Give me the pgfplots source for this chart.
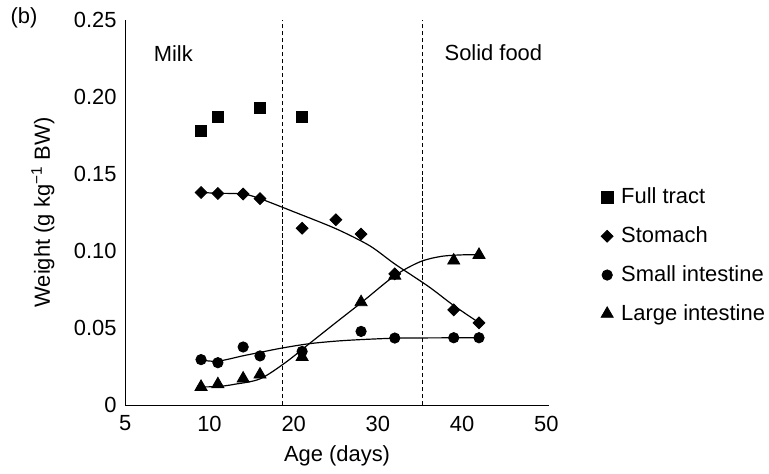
\documentclass[border=0pt]{standalone}
\usepackage{fontspec}
\setmainfont{Liberation Sans}
\usepackage{pgfplots}
\pgfplotsset{compat=1.18}
\begin{document}
\fontsize{11}{13}\selectfont
\begin{tikzpicture}
\begin{axis}[
  scale only axis, width=212.6pt, height=193.25pt,
  xmin=0, xmax=50.3, ymin=0, ymax=0.25,
  axis x line*=bottom, axis y line*=left,
  axis line style={-, line width=0.5pt},
  xtick={0,10,20,30,40,50}, xticklabels={5,10,20,30,40,50},
  ytick={0,0.05,0.10,0.15,0.20,0.25}, yticklabels={0,0.05,0.10,0.15,0.20,0.25},
  major tick length=0pt,
  /pgf/number format/assume math mode=true,
  tick label style={font=\fontsize{11}{13}\selectfont},
  xticklabel style={yshift=-1.5pt},
  yticklabel style={xshift=-0.5pt},
  xlabel={Age (days)}, ylabel={Weight (g kg\textsuperscript{−1} BW)},
  xlabel style={at={(axis description cs:0.5,-0.133)}, anchor=center},
  ylabel style={at={(axis description cs:-0.1945,0.5)}, anchor=center},
  label style={font=\fontsize{11}{13}\selectfont},
  clip=false,
  legend style={draw=none, fill=none, inner xsep=0pt, at={(1.1223,0.388)}, anchor=west,
    font=\fontsize{11}{13}\selectfont, row sep=5.85pt,
    legend cell align=left},
  legend image code/.code={\path (0cm,0cm) (0.27cm,0cm); \draw[mark repeat=2,mark phase=2,#1] plot coordinates {(0cm,0cm) (0.1cm,0cm) (0.2cm,0cm)};},
]
% bounding box of the whole figure
\path (axis description cs:-0.2956,-0.1514) rectangle (axis description cs:1.5126,1.0518);
% dashed separators
\addplot[forget plot, line width=0.4pt, dash pattern=on 2.2pt off 1.3pt] coordinates {(18.6,0) (18.6,0.25)};
\addplot[forget plot, line width=0.4pt, dash pattern=on 2.2pt off 1.3pt] coordinates {(35.3,0) (35.3,0.25)};
% fitted curves
\addplot[forget plot, smooth, tension=0.5, line width=0.6pt] coordinates {
 (9,0.138) (11,0.1375) (14,0.137) (16,0.134) (20,0.1255) (25,0.1145) (29,0.1035) (32,0.0916) (36,0.077) (39,0.0646) (42,0.0535)};
\addplot[forget plot, smooth, tension=0.5, line width=0.6pt] coordinates {
 (9,0.0292) (11,0.0285) (14,0.032) (16,0.0342) (18.6,0.037) (21.8,0.0398) (25,0.0415) (28,0.0425) (32,0.0434) (36,0.0436) (42,0.0437)};
\addplot[forget plot, smooth, tension=0.5, line width=0.6pt] coordinates {
 (9,0.0118) (11,0.012) (13,0.0135) (16,0.017) (19,0.0275) (22,0.0405) (25,0.0535) (28.1,0.0668) (32,0.084) (35,0.093) (37.5,0.0965) (40,0.0975) (42,0.0975)};
% data
\addplot[only marks, mark=square*, mark size=2.9pt, black] coordinates {
 (9,0.178) (11,0.187) (16,0.193) (21,0.187)};
\addlegendentry{Full tract}
\addplot[only marks, mark=square*, mark size=2.1pt, mark options={rotate=45}, black] coordinates {
 (9,0.138) (11,0.1374) (14,0.137) (16,0.134) (21,0.1148) (25,0.1203) (28,0.111) (32,0.0852) (39,0.0618) (42,0.0534)};
\addlegendentry{Stomach}
\addplot[only marks, mark=*, mark size=2.6pt, black] coordinates {
 (9,0.0295) (11,0.0275) (14,0.0377) (16,0.0319) (21,0.0348) (28,0.0478) (32,0.0435) (39,0.0437) (42,0.0437)};
\addlegendentry{Small intestine}
\addplot[only marks, mark=triangle*, mark size=3.5pt, black] coordinates {
 (9,0.0118) (11,0.0135) (14,0.0172) (16,0.0198) (21,0.0312) (28,0.0668) (32,0.084) (39,0.0938) (42,0.0975)};
\addlegendentry{Large intestine}
% annotations
\node[anchor=center] at (axis description cs:-0.239,1.005) {(b)};
\node[anchor=west, inner sep=0pt] at (axis description cs:0.0665,0.914) {Milk};
\node[anchor=west, inner sep=0pt] at (axis description cs:0.753,0.914) {Solid food};
\end{axis}
\end{tikzpicture}
\end{document}
